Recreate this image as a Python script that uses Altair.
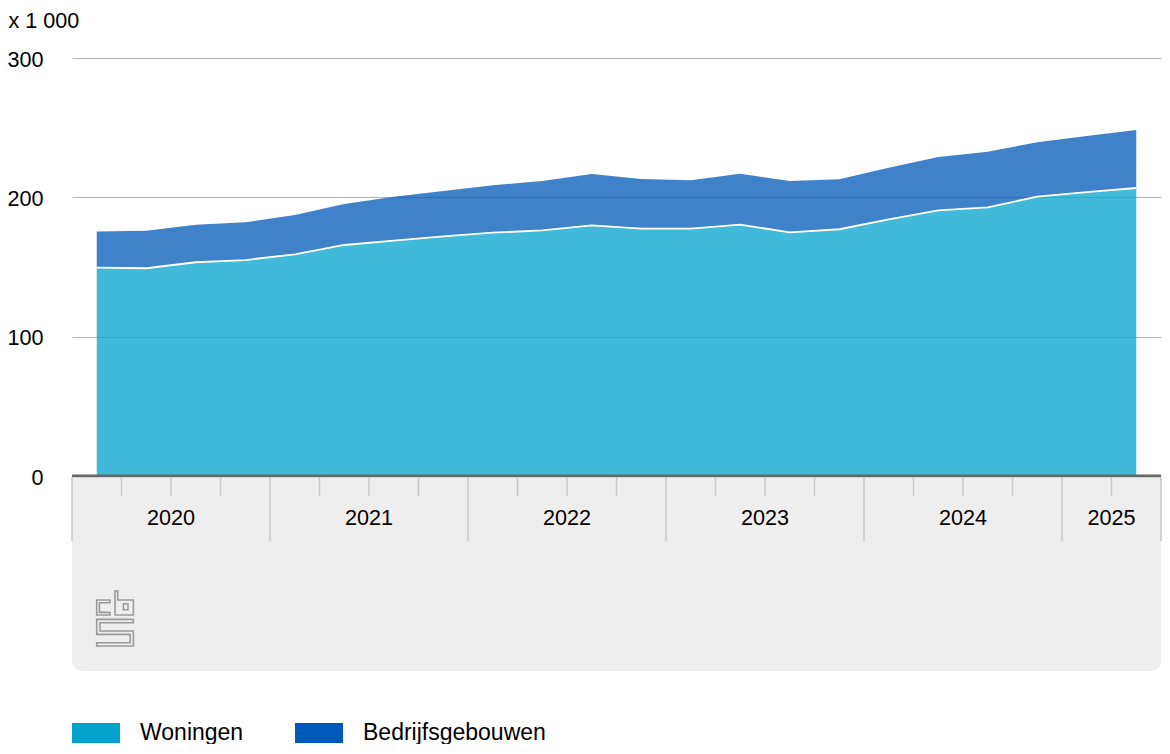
import altair as alt
import pandas as pd

# ---- data ----
years = [2020] * 4 + [2021] * 4 + [2022] * 4 + [2023] * 4 + [2024] * 4 + [2025] * 2
quarters = [1, 2, 3, 4] * 5 + [1, 2]
woningen = [149.5, 149.1, 153.4, 155.0, 159.1, 165.8, 168.9, 172.0, 174.6, 176.3, 179.9,
            177.5, 177.5, 180.4, 174.9, 177.1, 184.2, 190.7, 192.8, 200.5, 203.8, 206.7]
bedrijfsgebouwen = [25.9, 27.0, 27.0, 27.1, 28.2, 29.4, 31.6, 32.5, 34.0, 35.4, 36.8,
                    35.7, 34.7, 36.6, 36.8, 35.9, 37.1, 38.2, 40.0, 39.0, 40.2, 41.6]
series_names = ["Woningen", "Bedrijfsgebouwen"]
series_colors = ["#00a1cd", "#0058b8"]
y_ticks = [0, 100, 200, 300]
year_labels = ["2020", "2021", "2022", "2023", "2024", "2025"]
y_title = "x 1 000"

FONT = "Liberation Sans"
W, H = 1089, 418

n = len(years)
t = [y + (q - 0.5) / 4 for y, q in zip(years, quarters)]
x_min = years[0]
x_max = years[-1] + quarters[-1] / 4

long = pd.DataFrame({
    "t": t * 2,
    "value": woningen + bedrijfsgebouwen,
    "series": [series_names[0]] * n + [series_names[1]] * n,
    "ord": [0] * n + [1] * n,
})
wide = pd.DataFrame({"t": t, "woningen": woningen})

yrs = [int(s) for s in year_labels]
minor = pd.DataFrame({"t": [y + k / 4 for y in yrs for k in (1, 2, 3) if y + k / 4 < x_max]})
major = pd.DataFrame({"t": [float(y) for y in yrs] + [x_max]})
lab = pd.DataFrame({
    "t": [(max(y, x_min) + min(y + 1, x_max)) / 2 for y in yrs],
    "label": year_labels,
})

x_scale = alt.Scale(domain=[x_min, x_max], nice=False, zero=False)
y_scale = alt.Scale(domain=[0, 300], nice=False, zero=True)

# logo outline (local pixel coords -> unit path)
polys = [
    [(0, 9.3), (13.3, 9.3), (13.3, 12), (2.7, 12), (2.7, 21.7), (13.3, 21.7), (13.3, 24.3), (0, 24.3)],
    [(18.3, 0), (21, 0), (21, 9.3), (36.7, 9.3), (36.7, 24.3), (18.3, 24.3)],
    [(26.7, 13), (31.3, 13), (31.3, 19), (26.7, 19)],
    [(0, 28.7), (36.7, 28.7), (36.7, 32), (3.3, 32), (3.3, 40.3), (36.7, 40.3), (36.7, 55.3),
     (0, 55.3), (0, 52), (33.4, 52), (33.4, 43.7), (0, 43.7)],
]
cx, cy, r = 18.3, 27.7, 27.7
parts = []
for p in polys:
    pts = [f"{(x - cx) / r:.3f},{(y - cy) / r:.3f}" for x, y in p]
    parts.append("M" + " L".join(pts) + " Z")
LOGO = " ".join(parts)

areas = alt.Chart(long).mark_area(opacity=0.75).encode(
    x=alt.X("t:Q", scale=x_scale, axis=None),
    y=alt.Y("value:Q", stack="zero", scale=y_scale,
            axis=alt.Axis(values=y_ticks, grid=True, gridColor="#b4b4b4", gridWidth=1,
                          domain=False, ticks=False, tickSize=0, labelPadding=29,
                          labelFontSize=21.6, labelColor="#000000", labelFont=FONT,
                          labelFlush=False, labelOffset=2,
                          title=y_title, titleAngle=0, titleAlign="left",
                          titleBaseline="alphabetic", titleX=-64, titleY=-31,
                          titleFontSize=21.6, titleFontWeight="normal",
                          titleColor="#000000", titleFont=FONT)),
    color=alt.Color("series:N", scale=alt.Scale(domain=series_names, range=series_colors),
                    legend=alt.Legend(orient="none", legendX=0, legendY=651,
                                      direction="horizontal", title=None,
                                      symbolType="M-1,-0.42H1V0.42H-1Z", symbolSize=2304,
                                      symbolOpacity=1, symbolStrokeWidth=0,
                                      labelFontSize=23, labelFont=FONT, labelColor="#000000",
                                      labelOffset=20, columnPadding=51, labelLimit=400)),
    order=alt.Order("ord:Q"),
)

boundary = alt.Chart(wide).mark_line(color="white", strokeWidth=1.8).encode(
    x=alt.X("t:Q", scale=x_scale, axis=None),
    y=alt.Y("woningen:Q", scale=y_scale),
)

base_rule = alt.Chart(pd.DataFrame({"v": [0]})).mark_rule(color="#666666", strokeWidth=3).encode(
    y=alt.Y("v:Q", scale=y_scale), x=alt.value(0), x2=alt.value(W),
)

panel = alt.Chart(pd.DataFrame({"v": [0]})).mark_rect(
    color="#eeeeee", cornerRadiusBottomLeft=10, cornerRadiusBottomRight=10
).encode(x=alt.value(0), x2=alt.value(W), y=alt.value(H + 1.5), y2=alt.value(H + 195))

minor_ticks = alt.Chart(minor).mark_rule(color="#c8c8c8", strokeWidth=1.5).encode(
    x=alt.X("t:Q", scale=x_scale, axis=None), y=alt.value(H + 1.5), y2=alt.value(H + 20))
major_ticks = alt.Chart(major).mark_rule(color="#c8c8c8", strokeWidth=1.5).encode(
    x=alt.X("t:Q", scale=x_scale, axis=None), y=alt.value(H + 1.5), y2=alt.value(H + 65))

labels = alt.Chart(lab).mark_text(fontSize=21.6, font=FONT, color="#000000",
                                  baseline="alphabetic", align="center").encode(
    x=alt.X("t:Q", scale=x_scale, axis=None), y=alt.value(H + 49), text="label:N")

logo = alt.Chart(pd.DataFrame({"v": [0]})).mark_point(
    shape=LOGO, size=55.4 ** 2, filled=False, color="#9a9a9a", strokeWidth=1.6, opacity=1
).encode(x=alt.value(43), y=alt.value(560.4))

chart = alt.layer(areas, boundary, base_rule, panel, minor_ticks, major_ticks, labels, logo).properties(
    width=W, height=H,
    autosize=alt.AutoSizeParams(type="none"),
    padding={"left": 64, "top": 50, "right": 1, "bottom": 268},
    background="white",
).configure(font=FONT).configure_view(stroke=None)

chart.save("out.html", embed_options={"renderer": "svg", "actions": False})
